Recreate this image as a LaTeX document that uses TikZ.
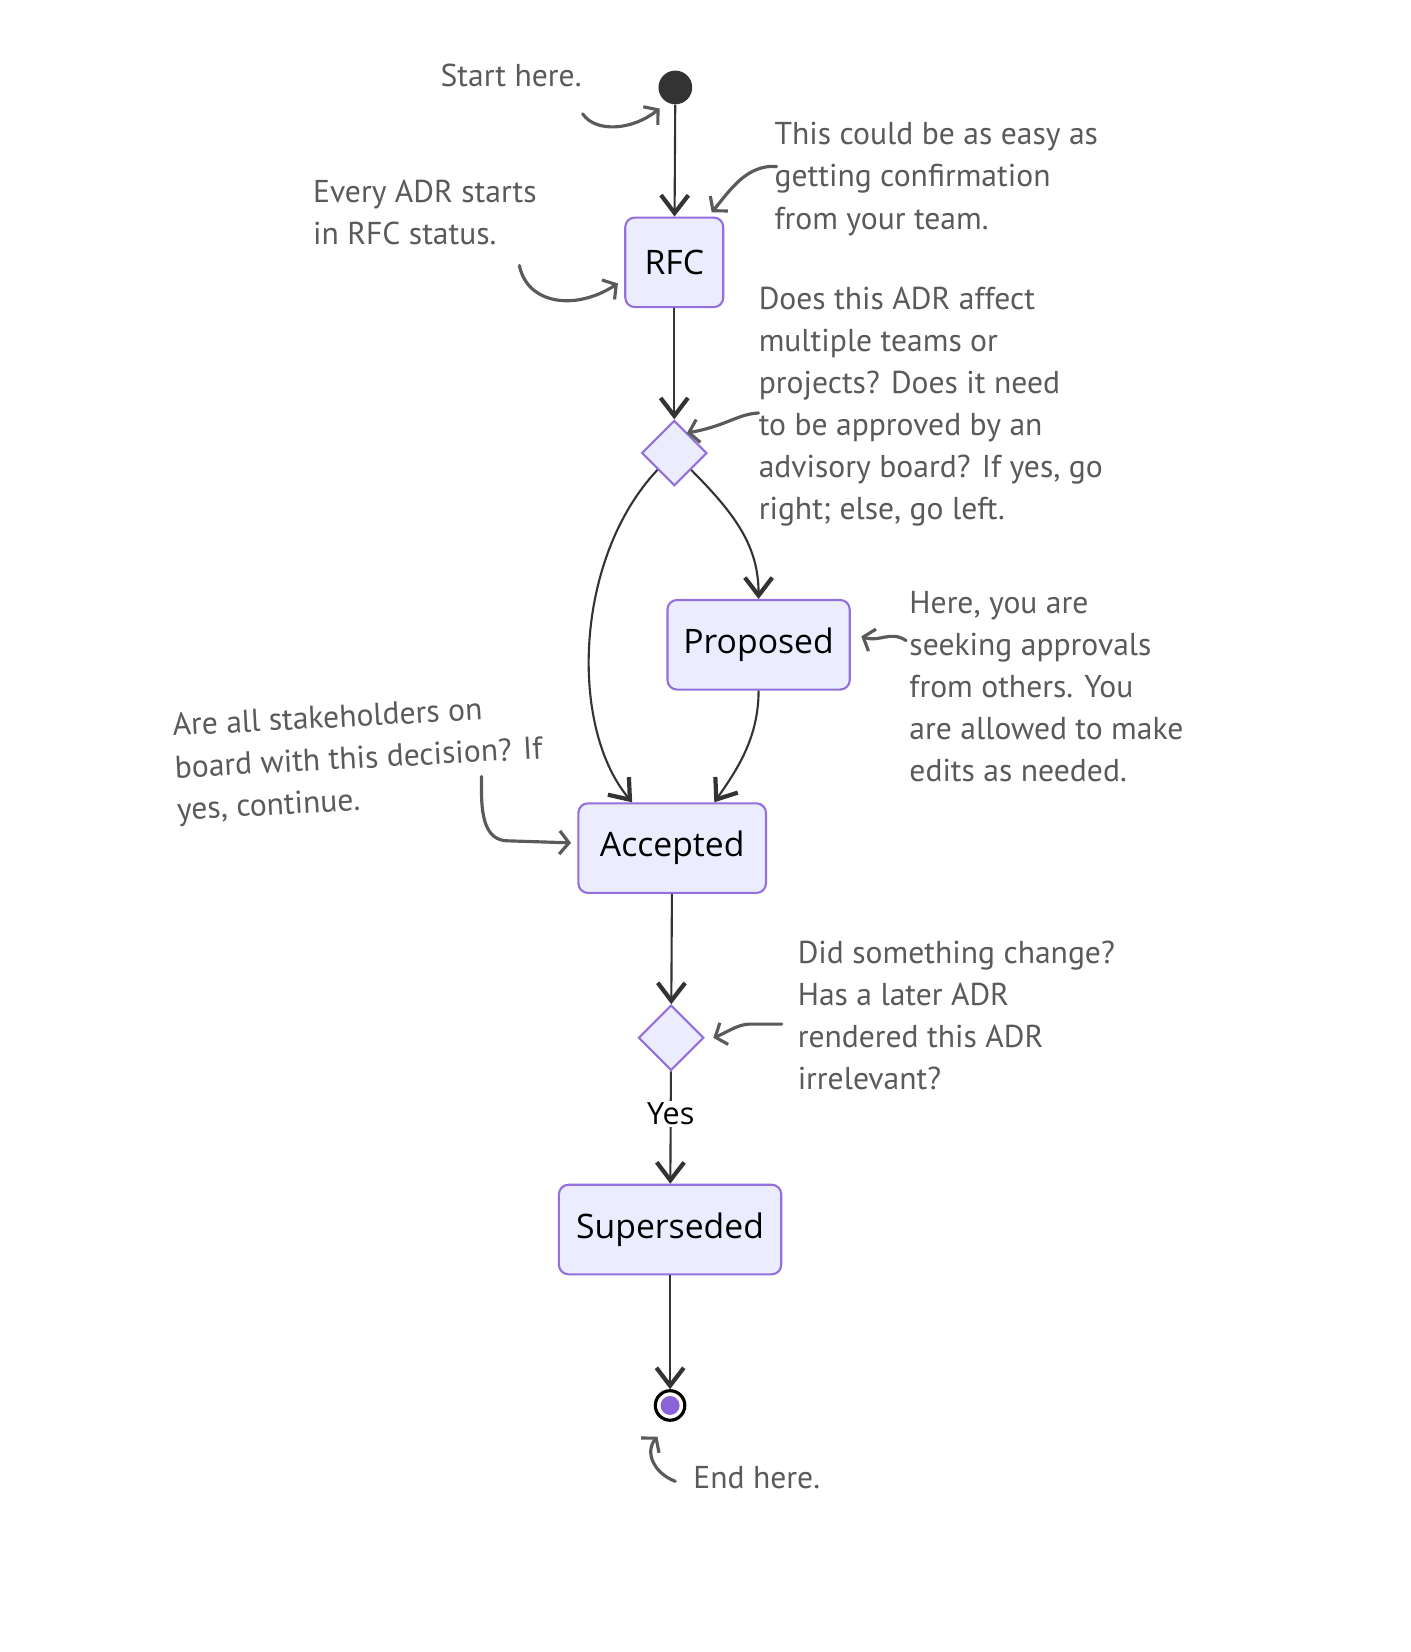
\documentclass[tikz,border=0pt]{standalone}
\usepackage{fontspec}
\usetikzlibrary{arrows.meta,shapes.geometric}
\newfontfamily\annfont{PT Sans}
\newfontfamily\nodefont{Open Sans}
\definecolor{statefill}{HTML}{ECECFF}
\definecolor{stateborder}{HTML}{9370DB}
\definecolor{flowcol}{HTML}{333333}
\definecolor{notecol}{HTML}{5A5A5A}
\definecolor{endfill}{HTML}{8A63D8}
\tikzset{
  state/.style={draw=stateborder, fill=statefill, line width=2pt, rounded corners=9pt,
    minimum height=85pt, inner sep=0pt, font=\nodefont\fontsize{32}{38}\selectfont, text=black},
  choice/.style={diamond, draw=stateborder, fill=statefill, line width=2pt, minimum size=62pt, inner sep=0pt},
  flow/.style={draw=flowcol, line width=2pt, -{Straight Barb[length=17pt,width=26pt,line width=4pt]}},
  note/.style={font=\annfont\fontsize{30}{40}\selectfont, text=notecol, align=left, inner sep=0pt, anchor=north west},
  pointer/.style={draw=notecol, line width=3pt, line cap=round, line join=round, -{Straight Barb[length=9pt,width=22pt]}},
}
\begin{document}
\begin{tikzpicture}[x=1pt,y=-1pt]
\useasboundingbox[fill=white] (0,0) rectangle (1339,1568);

% states
\node[circle, fill=flowcol, minimum size=32pt, inner sep=0pt] (start) at (641,83) {};
\node[state, minimum width=93pt] (rfc) at (640,249) {RFC};
\node[choice] (d1) at (640,430) {};
\node[state, minimum width=173pt] (prop) at (720,612) {Proposed};
\node[state, minimum width=178pt] (acc) at (638,805) {Accepted};
\node[choice] (d2) at (637,985) {};
\node[state, minimum width=211pt] (sup) at (636,1167) {Superseded};
\node[circle, draw=black, line width=3pt, fill=white, minimum size=28pt, inner sep=0pt] (end) at (636,1334) {};
\fill[endfill] (end.center) circle (9pt);

% flow
\draw[flow] (start) -- (rfc);
\draw[flow] (rfc) -- (d1);
\draw[flow] (d1.south west) .. controls (545,530) and (540,690) .. ([xshift=-38pt]acc.north);
\draw[flow] (d1.south east) .. controls (700,490) and (720,520) .. (prop.north);
\draw[flow] (prop.south) .. controls (720,700) and (700,730) .. ([xshift=40pt]acc.north);
\draw[flow] (acc) -- (d2);
\draw[flow] (d2) -- node[pos=0.38, fill=white, inner sep=2pt, font=\nodefont\fontsize{29}{34}\selectfont, text=black] (yes) {Yes} (sup);
\draw[flow] (sup) -- (end);

% notes
\node[note] (nstart) at (418,61) {Start here.};
\node[note] (nevery) at (297,171) {Every ADR starts\\in RFC status.};
\node[note] (neasy) at (735,116) {This could be as easy as\\getting confirmation\\from your team.};
\node[note] (naffect) at (720,272) {Does this ADR affect\\multiple teams or\\projects? Does it need\\to be approved by an\\advisory board? If yes, go\\right; else, go left.};
\node[note] (nhere) at (863,561) {Here, you are\\seeking approvals\\from others. You\\are allowed to make\\edits as needed.};
\node[note, rotate=3] (nall) at (163,677) {Are all stakeholders on\\board with this decision? If\\yes, continue.};
\node[note] (nchange) at (757,893) {Did something change?\\Has a later ADR\\rendered this ADR\\irrelevant?};
\node[note] (nend) at (658,1392) {End here.};

% pointer coordinates
\coordinate (p1) at (553,108);
\coordinate (p2) at (493,252);
\coordinate (p3) at (737,158);
\coordinate (p4) at (720,392);
\coordinate (p5) at (860,608);
\coordinate (p6) at (457,737);
\coordinate (p7) at (742,972);
\coordinate (p8) at (641,1406);

\draw[pointer] (p1) .. controls (565,126) and (600,124) .. ([xshift=-15pt,yshift=-20pt]start.center);
\draw[pointer] (p2) .. controls (500,288) and (545,296) .. ([xshift=-6pt,yshift=-20pt]rfc.west);
\draw[pointer] (p3) .. controls (708,156) and (692,182) .. ([xshift=-12pt,yshift=4pt]rfc.north east);
\draw[pointer] (p4) .. controls (700,393) and (690,404) .. ([xshift=-4pt,yshift=3pt]d1.north east);
\draw[pointer] (p5) .. controls (845,598) and (835,610) .. ([xshift=10pt,yshift=8pt]prop.east);
\draw[pointer] (p6) .. controls (457,760) and (455,796) .. (480,798) -- ([xshift=-6pt,yshift=5pt]acc.west);
\draw[pointer] (p7) -- (712,972) .. controls (700,972) and (690,980) .. ([xshift=8pt]d2.east);
\draw[pointer] (p8) .. controls (620,1398) and (612,1378) .. ([xshift=-12pt,yshift=-14pt]end.south);
\end{tikzpicture}
\end{document}
